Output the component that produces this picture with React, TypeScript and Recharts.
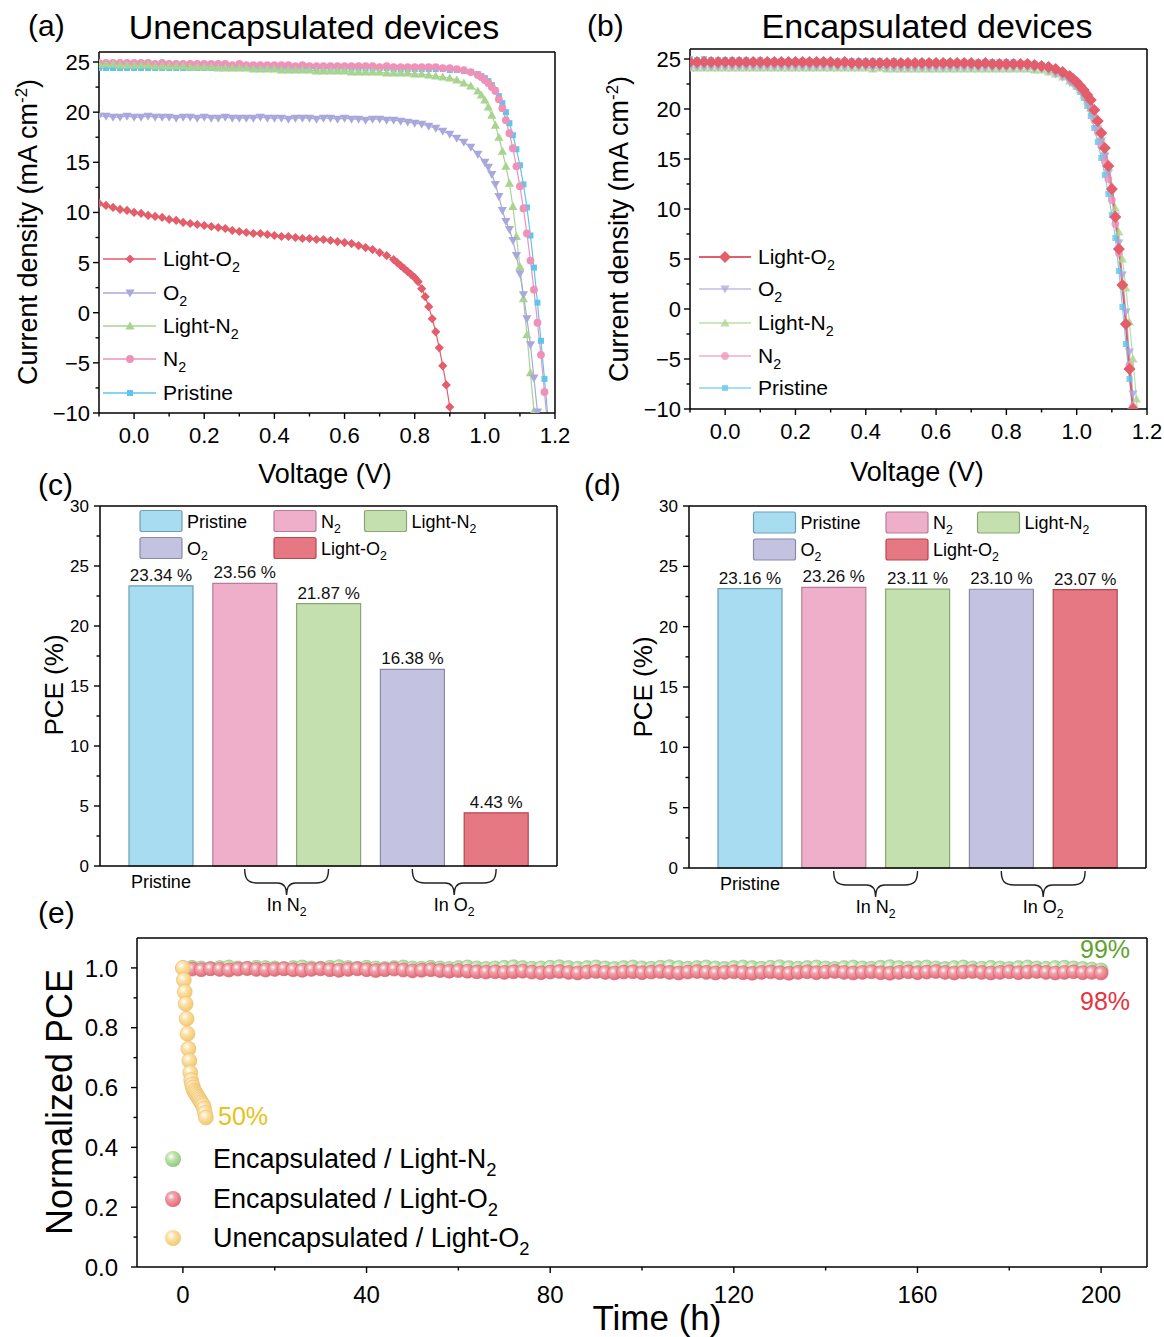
import React from "react";
import {
  Bar,
  BarChart,
  Cell,
  LabelList,
  Line,
  LineChart,
  Scatter,
  ScatterChart,
  XAxis,
  YAxis,
} from "recharts";

const FONT = "'Liberation Sans', Arial, Helvetica, sans-serif";
const AXIS = { stroke: "#000", strokeWidth: 1.5 };

// (a) unencapsulated J-V sweeps, [V, mA cm^-2]
const A_LIGHT_O2 = [
  [-0.1, 10.9], [-0.08, 10.7], [-0.06, 10.5], [-0.04, 10.3], [-0.02, 10.2], [0, 10.0], [0.02, 9.9], [0.04, 9.7],
  [0.06, 9.6], [0.08, 9.5], [0.1, 9.3], [0.12, 9.2], [0.14, 9.0], [0.16, 8.9], [0.18, 8.8], [0.2, 8.7],
  [0.22, 8.6], [0.24, 8.5], [0.26, 8.4], [0.28, 8.2], [0.3, 8.1], [0.32, 8.0], [0.34, 7.9], [0.36, 7.9],
  [0.38, 7.8], [0.4, 7.7], [0.42, 7.6], [0.44, 7.6], [0.46, 7.5], [0.48, 7.4], [0.5, 7.4], [0.52, 7.3],
  [0.54, 7.3], [0.56, 7.2], [0.58, 7.1], [0.6, 7.0], [0.62, 6.9], [0.64, 6.7], [0.66, 6.5], [0.68, 6.3],
  [0.7, 6.0], [0.72, 5.7], [0.74, 5.3], [0.75, 5.0], [0.76, 4.7], [0.77, 4.4], [0.78, 4.1], [0.79, 3.8],
  [0.8, 3.5], [0.81, 3.1], [0.82, 2.4], [0.83, 1.6], [0.84, 0.6], [0.85, -0.6], [0.86, -1.9], [0.87, -3.5],
  [0.88, -5.3], [0.89, -7.2], [0.9, -9.4], [0.91, -11.8],
];
const A_O2 = [
  [-0.1, 19.6], [-0.08, 19.6], [-0.06, 19.5], [-0.04, 19.5], [-0.02, 19.6], [0, 19.5], [0.02, 19.5], [0.04, 19.6],
  [0.06, 19.5], [0.08, 19.5], [0.1, 19.5], [0.12, 19.4], [0.14, 19.5], [0.16, 19.5], [0.18, 19.4], [0.2, 19.5],
  [0.22, 19.4], [0.24, 19.4], [0.26, 19.5], [0.28, 19.4], [0.3, 19.4], [0.32, 19.4], [0.34, 19.4], [0.36, 19.5],
  [0.38, 19.4], [0.4, 19.4], [0.42, 19.4], [0.44, 19.3], [0.46, 19.4], [0.48, 19.4], [0.5, 19.4], [0.52, 19.3],
  [0.54, 19.4], [0.56, 19.4], [0.58, 19.3], [0.6, 19.4], [0.62, 19.3], [0.64, 19.3], [0.66, 19.2], [0.68, 19.3],
  [0.7, 19.3], [0.72, 19.2], [0.74, 19.2], [0.76, 19.1], [0.78, 19.0], [0.8, 18.9], [0.82, 18.8], [0.84, 18.6],
  [0.86, 18.4], [0.88, 18.1], [0.9, 17.8], [0.92, 17.4], [0.94, 17.0], [0.96, 16.5], [0.98, 15.8], [1.0, 15.0],
  [1.01, 14.5], [1.02, 13.8], [1.03, 12.8], [1.04, 11.6], [1.05, 10.2], [1.06, 9.1], [1.07, 8.3], [1.08, 7.2],
  [1.09, 5.7], [1.1, 3.9], [1.11, 1.8], [1.12, -0.6], [1.13, -3.2], [1.14, -6.5], [1.15, -9.9], [1.155, -12],
];
const A_LIGHT_N2 = [
  [-0.1, 24.8], [-0.08, 24.8], [-0.06, 24.8], [-0.04, 24.7], [-0.02, 24.7], [0, 24.7], [0.02, 24.7], [0.04, 24.7],
  [0.06, 24.6], [0.08, 24.6], [0.1, 24.6], [0.12, 24.6], [0.14, 24.6], [0.16, 24.5], [0.18, 24.5], [0.2, 24.5],
  [0.22, 24.5], [0.24, 24.4], [0.26, 24.4], [0.28, 24.4], [0.3, 24.4], [0.32, 24.4], [0.34, 24.3], [0.36, 24.3],
  [0.38, 24.3], [0.4, 24.3], [0.42, 24.2], [0.44, 24.2], [0.46, 24.2], [0.48, 24.2], [0.5, 24.2], [0.52, 24.1],
  [0.54, 24.1], [0.56, 24.1], [0.58, 24.1], [0.6, 24.1], [0.62, 24.0], [0.64, 24.0], [0.66, 24.0], [0.68, 24.0],
  [0.7, 24.0], [0.72, 23.9], [0.74, 23.9], [0.76, 23.9], [0.78, 23.9], [0.8, 23.8], [0.82, 23.8], [0.84, 23.7],
  [0.86, 23.6], [0.88, 23.5], [0.9, 23.4], [0.92, 23.2], [0.94, 22.9], [0.96, 22.6], [0.98, 22.1], [0.99, 21.7],
  [1.0, 21.2], [1.01, 20.5], [1.02, 19.7], [1.03, 18.7], [1.04, 17.5], [1.05, 16.1], [1.06, 14.6], [1.07, 12.9],
  [1.08, 10.6], [1.09, 7.6], [1.1, 4.6], [1.11, 1.4], [1.12, -2.2], [1.13, -6.0], [1.14, -9.8], [1.145, -12],
];
const A_N2 = [
  [-0.1, 24.9], [-0.08, 24.9], [-0.06, 24.9], [-0.04, 24.9], [-0.02, 24.9], [0, 24.9], [0.02, 24.9], [0.04, 24.9],
  [0.06, 24.8], [0.08, 24.9], [0.1, 24.8], [0.12, 24.8], [0.14, 24.8], [0.16, 24.8], [0.18, 24.8], [0.2, 24.8],
  [0.22, 24.8], [0.24, 24.8], [0.26, 24.8], [0.28, 24.7], [0.3, 24.8], [0.32, 24.7], [0.34, 24.7], [0.36, 24.7],
  [0.38, 24.7], [0.4, 24.7], [0.42, 24.7], [0.44, 24.7], [0.46, 24.6], [0.48, 24.7], [0.5, 24.6], [0.52, 24.6],
  [0.54, 24.6], [0.56, 24.6], [0.58, 24.6], [0.6, 24.6], [0.62, 24.6], [0.64, 24.6], [0.66, 24.6], [0.68, 24.6],
  [0.7, 24.5], [0.72, 24.6], [0.74, 24.5], [0.76, 24.5], [0.78, 24.5], [0.8, 24.5], [0.82, 24.5], [0.84, 24.5],
  [0.86, 24.5], [0.88, 24.4], [0.9, 24.4], [0.92, 24.3], [0.94, 24.2], [0.96, 24.0], [0.98, 23.7], [0.99, 23.5],
  [1.0, 23.2], [1.01, 22.9], [1.02, 22.5], [1.03, 22.1], [1.04, 21.3], [1.05, 20.4], [1.06, 19.2], [1.07, 17.9],
  [1.08, 16.4], [1.09, 14.6], [1.1, 12.6], [1.11, 10.4], [1.12, 7.9], [1.13, 5.2], [1.14, 2.3], [1.15, -1.0],
  [1.16, -4.2], [1.17, -7.9], [1.18, -11.6],
];
const A_PRISTINE = [
  [-0.1, 24.4], [-0.08, 24.4], [-0.06, 24.4], [-0.04, 24.4], [-0.02, 24.4], [0, 24.4], [0.02, 24.4], [0.04, 24.4],
  [0.06, 24.4], [0.08, 24.4], [0.1, 24.4], [0.12, 24.4], [0.14, 24.4], [0.16, 24.4], [0.18, 24.4], [0.2, 24.4],
  [0.22, 24.4], [0.24, 24.4], [0.26, 24.4], [0.28, 24.4], [0.3, 24.4], [0.32, 24.4], [0.34, 24.4], [0.36, 24.4],
  [0.38, 24.4], [0.4, 24.4], [0.42, 24.4], [0.44, 24.4], [0.46, 24.4], [0.48, 24.4], [0.5, 24.4], [0.52, 24.4],
  [0.54, 24.4], [0.56, 24.4], [0.58, 24.4], [0.6, 24.4], [0.62, 24.4], [0.64, 24.4], [0.66, 24.4], [0.68, 24.4],
  [0.7, 24.4], [0.72, 24.4], [0.74, 24.3], [0.76, 24.3], [0.78, 24.3], [0.8, 24.3], [0.82, 24.3], [0.84, 24.3],
  [0.86, 24.3], [0.88, 24.3], [0.9, 24.2], [0.92, 24.2], [0.94, 24.1], [0.96, 24.0], [0.98, 23.8], [0.99, 23.6],
  [1.0, 23.4], [1.01, 23.1], [1.02, 22.7], [1.03, 22.2], [1.04, 21.6], [1.05, 20.9], [1.06, 20.0], [1.07, 18.9],
  [1.08, 17.7], [1.09, 16.3], [1.1, 14.7], [1.11, 12.8], [1.12, 10.5], [1.13, 7.7], [1.14, 4.5], [1.15, 1.0],
  [1.16, -2.8], [1.17, -6.6], [1.18, -10.6],
];

// (b) encapsulated J-V sweeps
const B_LIGHT_O2 = [
  [-0.1, 24.7], [-0.08, 24.7], [-0.06, 24.7], [-0.04, 24.7], [-0.02, 24.7], [0, 24.7], [0.02, 24.7], [0.04, 24.7],
  [0.06, 24.7], [0.08, 24.7], [0.1, 24.7], [0.12, 24.7], [0.14, 24.7], [0.16, 24.7], [0.18, 24.7], [0.2, 24.7],
  [0.22, 24.7], [0.24, 24.7], [0.26, 24.7], [0.28, 24.7], [0.3, 24.7], [0.32, 24.6], [0.34, 24.7], [0.36, 24.6],
  [0.38, 24.6], [0.4, 24.6], [0.42, 24.6], [0.44, 24.6], [0.46, 24.6], [0.48, 24.6], [0.5, 24.6], [0.52, 24.6],
  [0.54, 24.6], [0.56, 24.6], [0.58, 24.6], [0.6, 24.6], [0.62, 24.6], [0.64, 24.6], [0.66, 24.6], [0.68, 24.6],
  [0.7, 24.6], [0.72, 24.5], [0.74, 24.6], [0.76, 24.5], [0.78, 24.5], [0.8, 24.5], [0.82, 24.5], [0.84, 24.5],
  [0.86, 24.5], [0.88, 24.4], [0.9, 24.3], [0.92, 24.2], [0.94, 24.0], [0.96, 23.7], [0.98, 23.3], [0.99, 23.0],
  [1.0, 22.7], [1.01, 22.3], [1.02, 21.9], [1.03, 21.4], [1.04, 20.9], [1.05, 19.9], [1.06, 18.8], [1.07, 17.6],
  [1.08, 16.1], [1.09, 14.3], [1.1, 12.0], [1.11, 9.2], [1.12, 6.0], [1.13, 2.4], [1.14, -1.5], [1.15, -6.0],
  [1.16, -10.0], [1.165, -12.2],
];
const B_O2 = [
  [-0.1, 24.2], [-0.08, 24.2], [-0.06, 24.2], [-0.04, 24.2], [-0.02, 24.2], [0, 24.2], [0.02, 24.2], [0.04, 24.2],
  [0.06, 24.2], [0.08, 24.2], [0.1, 24.2], [0.12, 24.2], [0.14, 24.2], [0.16, 24.2], [0.18, 24.2], [0.2, 24.2],
  [0.22, 24.2], [0.24, 24.2], [0.26, 24.2], [0.28, 24.2], [0.3, 24.2], [0.32, 24.2], [0.34, 24.2], [0.36, 24.2],
  [0.38, 24.2], [0.4, 24.2], [0.42, 24.1], [0.44, 24.2], [0.46, 24.1], [0.48, 24.1], [0.5, 24.1], [0.52, 24.1],
  [0.54, 24.1], [0.56, 24.1], [0.58, 24.1], [0.6, 24.1], [0.62, 24.1], [0.64, 24.1], [0.66, 24.1], [0.68, 24.1],
  [0.7, 24.1], [0.72, 24.1], [0.74, 24.1], [0.76, 24.1], [0.78, 24.1], [0.8, 24.1], [0.82, 24.1], [0.84, 24.1],
  [0.86, 24.1], [0.88, 24.0], [0.9, 24.0], [0.92, 23.8], [0.94, 23.5], [0.96, 23.2], [0.98, 22.7], [0.99, 22.5],
  [1.0, 22.2], [1.01, 21.8], [1.02, 21.3], [1.03, 20.7], [1.04, 20.0], [1.05, 19.1], [1.06, 18.0], [1.07, 16.8],
  [1.08, 15.3], [1.09, 13.6], [1.1, 11.6], [1.11, 9.3], [1.12, 6.6], [1.13, 3.4], [1.14, -0.3], [1.15, -4.3],
  [1.16, -8.5], [1.17, -12.8],
];
const B_LIGHT_N2 = [
  [-0.1, 24.1], [-0.08, 24.1], [-0.06, 24.1], [-0.04, 24.1], [-0.02, 24.1], [0, 24.1], [0.02, 24.1], [0.04, 24.1],
  [0.06, 24.1], [0.08, 24.1], [0.1, 24.1], [0.12, 24.1], [0.14, 24.1], [0.16, 24.1], [0.18, 24.1], [0.2, 24.1],
  [0.22, 24.1], [0.24, 24.1], [0.26, 24.1], [0.28, 24.1], [0.3, 24.1], [0.32, 24.1], [0.34, 24.1], [0.36, 24.1],
  [0.38, 24.1], [0.4, 24.1], [0.42, 24.0], [0.44, 24.1], [0.46, 24.0], [0.48, 24.0], [0.5, 24.0], [0.52, 24.0],
  [0.54, 24.0], [0.56, 24.0], [0.58, 24.0], [0.6, 24.0], [0.62, 24.0], [0.64, 24.0], [0.66, 24.0], [0.68, 24.0],
  [0.7, 24.0], [0.72, 24.0], [0.74, 24.0], [0.76, 24.0], [0.78, 24.0], [0.8, 24.0], [0.82, 24.0], [0.84, 24.0],
  [0.86, 24.0], [0.88, 23.9], [0.9, 23.9], [0.92, 23.7], [0.94, 23.5], [0.96, 23.2], [0.98, 22.8], [0.99, 22.6],
  [1.0, 22.3], [1.01, 21.9], [1.02, 21.4], [1.03, 20.8], [1.04, 20.1], [1.05, 19.3], [1.06, 18.3], [1.07, 17.1],
  [1.08, 15.8], [1.09, 14.2], [1.1, 12.3], [1.11, 10.1], [1.12, 7.7], [1.13, 5.0], [1.14, 2.1], [1.15, -1.3],
  [1.16, -5.0], [1.17, -9.0], [1.18, -13.0],
];
const B_N2 = [
  [-0.1, 24.7], [-0.08, 24.6], [-0.06, 24.7], [-0.04, 24.6], [-0.02, 24.6], [0, 24.7], [0.02, 24.6], [0.04, 24.6],
  [0.06, 24.6], [0.08, 24.7], [0.1, 24.6], [0.12, 24.6], [0.14, 24.6], [0.16, 24.6], [0.18, 24.6], [0.2, 24.6],
  [0.22, 24.6], [0.24, 24.6], [0.26, 24.6], [0.28, 24.6], [0.3, 24.6], [0.32, 24.6], [0.34, 24.6], [0.36, 24.6],
  [0.38, 24.6], [0.4, 24.6], [0.42, 24.6], [0.44, 24.6], [0.46, 24.6], [0.48, 24.6], [0.5, 24.6], [0.52, 24.6],
  [0.54, 24.5], [0.56, 24.6], [0.58, 24.5], [0.6, 24.5], [0.62, 24.5], [0.64, 24.5], [0.66, 24.5], [0.68, 24.5],
  [0.7, 24.5], [0.72, 24.5], [0.74, 24.5], [0.76, 24.5], [0.78, 24.5], [0.8, 24.5], [0.82, 24.5], [0.84, 24.5],
  [0.86, 24.5], [0.88, 24.4], [0.9, 24.3], [0.92, 24.2], [0.94, 23.9], [0.96, 23.6], [0.98, 23.1], [0.99, 22.8],
  [1.0, 22.5], [1.01, 22.1], [1.02, 21.6], [1.03, 20.9], [1.04, 20.0], [1.05, 18.9], [1.06, 17.7], [1.07, 16.3],
  [1.08, 14.8], [1.09, 13.0], [1.1, 10.9], [1.11, 8.5], [1.12, 5.6], [1.13, 2.3], [1.14, -1.5], [1.15, -5.6],
  [1.16, -9.8], [1.165, -12],
];
const B_PRISTINE = [
  [-0.1, 25.0], [-0.08, 24.9], [-0.06, 25.0], [-0.04, 24.9], [-0.02, 24.9], [0, 24.9], [0.02, 24.9], [0.04, 24.9],
  [0.06, 24.9], [0.08, 24.8], [0.1, 24.9], [0.12, 24.8], [0.14, 24.8], [0.16, 24.8], [0.18, 24.8], [0.2, 24.8],
  [0.22, 24.8], [0.24, 24.8], [0.26, 24.8], [0.28, 24.8], [0.3, 24.8], [0.32, 24.8], [0.34, 24.8], [0.36, 24.8],
  [0.38, 24.8], [0.4, 24.8], [0.42, 24.8], [0.44, 24.8], [0.46, 24.7], [0.48, 24.8], [0.5, 24.7], [0.52, 24.7],
  [0.54, 24.7], [0.56, 24.7], [0.58, 24.7], [0.6, 24.7], [0.62, 24.7], [0.64, 24.7], [0.66, 24.7], [0.68, 24.7],
  [0.7, 24.7], [0.72, 24.7], [0.74, 24.7], [0.76, 24.7], [0.78, 24.7], [0.8, 24.7], [0.82, 24.7], [0.84, 24.6],
  [0.86, 24.6], [0.88, 24.5], [0.9, 24.4], [0.92, 24.2], [0.94, 24.0], [0.96, 23.6], [0.98, 23.0], [0.99, 22.6],
  [1.0, 22.2], [1.01, 21.7], [1.02, 21.1], [1.03, 20.3], [1.04, 19.3], [1.05, 18.1], [1.06, 16.7], [1.07, 15.1],
  [1.08, 13.4], [1.09, 11.5], [1.1, 9.4], [1.11, 7.1], [1.12, 3.8], [1.13, 0.2], [1.14, -3.5], [1.15, -7.0],
  [1.16, -10.6],
];

const JV_X_TICKS = [-0.1, 0, 0.1, 0.2, 0.3, 0.4, 0.5, 0.6, 0.7, 0.8, 0.9, 1.0, 1.1, 1.2];
const JV_X_MAJOR = [0, 0.2, 0.4, 0.6, 0.8, 1.0, 1.2];
const JV_Y_TICKS = [-10, -7.5, -5, -2.5, 0, 2.5, 5, 7.5, 10, 12.5, 15, 17.5, 20, 22.5, 25];
const JV_Y_MAJOR = [-10, -5, 0, 5, 10, 15, 20, 25];

// (c), (d) PCE
const CATEGORIES = ["Pristine", "N₂", "Light-N₂", "O₂", "Light-O₂"];
const PCE_UNENC = [23.34, 23.56, 21.87, 16.38, 4.43];
const PCE_ENC = [23.16, 23.26, 23.11, 23.1, 23.07];
const GROUP_LABELS = ["Pristine", "", "In N₂", "", "In O₂"];
const PCE_TICKS = [0, 2.5, 5, 7.5, 10, 12.5, 15, 17.5, 20, 22.5, 25, 27.5, 30];
const PCE_MAJOR = [0, 5, 10, 15, 20, 25, 30];
const BAR_FILL = ["#a7dcf1", "#efafca", "#c5e0af", "#c3c3e1", "#e67883"];
const BAR_STROKE = ["#6d9fb8", "#b47f95", "#8ba576", "#8a8aa8", "#b8454f"];

// (e) normalized PCE vs time
const HOURS = [
  0, 2, 4, 6, 8, 10, 12, 14, 16, 18,
  20, 22, 24, 26, 28, 30, 32, 34, 36, 38,
  40, 42, 44, 46, 48, 50, 52, 54, 56, 58,
  60, 62, 64, 66, 68, 70, 72, 74, 76, 78,
  80, 82, 84, 86, 88, 90, 92, 94, 96, 98,
  100, 102, 104, 106, 108, 110, 112, 114, 116, 118,
  120, 122, 124, 126, 128, 130, 132, 134, 136, 138,
  140, 142, 144, 146, 148, 150, 152, 154, 156, 158,
  160, 162, 164, 166, 168, 170, 172, 174, 176, 178,
  180, 182, 184, 186, 188, 190, 192, 194, 196, 198,
  200,
];
const ENC_LIGHT_N2 = [
  1.0, 1.002, 1.0, 0.998, 1.001, 1.003, 1.0, 0.999, 1.002, 1.001,
  1.0, 0.998, 1.001, 1.003, 1.0, 0.999, 1.002, 1.004, 1.001, 0.999,
  1.002, 1.0, 0.998, 1.001, 1.003, 1.0, 0.999, 1.002, 1.0, 0.998,
  1.001, 1.003, 1.0, 0.998, 1.0, 1.002, 1.004, 1.001, 0.999, 1.0,
  1.002, 1.004, 1.001, 0.999, 1.001, 1.003, 1.0, 0.998, 1.001, 1.003,
  1.0, 0.999, 1.002, 1.004, 1.001, 0.999, 1.001, 1.003, 1.0, 0.998,
  1.001, 1.003, 1.001, 0.999, 1.002, 1.004, 1.001, 0.999, 1.001, 1.003,
  1.0, 0.998, 1.001, 1.003, 1.0, 0.999, 1.002, 1.004, 1.001, 0.999,
  1.001, 1.003, 1.0, 0.998, 1.001, 1.003, 1.0, 0.999, 1.002, 1.0,
  0.998, 1.001, 1.003, 1.0, 0.999, 1.001, 1.002, 1.0, 0.998, 0.996,
  0.993,
];
const ENC_LIGHT_O2 = [
  1.0, 0.996, 0.994, 0.997, 0.995, 0.993, 0.996, 0.998, 0.995, 0.993,
  0.995, 0.997, 0.994, 0.992, 0.995, 0.997, 0.994, 0.992, 0.995, 0.997,
  0.994, 0.991, 0.994, 0.996, 0.993, 0.99, 0.992, 0.994, 0.991, 0.989,
  0.991, 0.989, 0.987, 0.986, 0.987, 0.985, 0.987, 0.989, 0.986, 0.984,
  0.986, 0.988, 0.985, 0.983, 0.986, 0.988, 0.985, 0.983, 0.986, 0.987,
  0.984, 0.986, 0.988, 0.985, 0.983, 0.986, 0.988, 0.985, 0.983, 0.985,
  0.987, 0.984, 0.982, 0.985, 0.987, 0.984, 0.982, 0.985, 0.987, 0.984,
  0.986, 0.988, 0.985, 0.983, 0.985, 0.987, 0.984, 0.982, 0.985, 0.987,
  0.984, 0.986, 0.988, 0.985, 0.983, 0.986, 0.988, 0.985, 0.983, 0.985,
  0.987, 0.984, 0.986, 0.988, 0.985, 0.983, 0.985, 0.987, 0.984, 0.985,
  0.983,
];
const UNENC_HOURS = [0, 0.2, 0.4, 0.6, 0.8, 1.0, 1.2, 1.4, 1.6, 1.8, 2.0, 2.2, 2.4, 2.6, 2.8, 3.0, 3.2, 3.4, 3.6, 3.8, 4.0, 4.2, 4.4, 4.6, 4.8, 5.0];
const UNENC_LIGHT_O2 = [1.0, 0.96, 0.92, 0.88, 0.83, 0.78, 0.73, 0.69, 0.65, 0.625, 0.61, 0.6, 0.59, 0.585, 0.58, 0.575, 0.57, 0.565, 0.56, 0.555, 0.55, 0.545, 0.54, 0.53, 0.515, 0.5];
const E_X_TICKS = [0, 20, 40, 60, 80, 100, 120, 140, 160, 180, 200];
const E_X_MAJOR = [0, 40, 80, 120, 160, 200];
const E_Y_TICKS = [0, 0.1, 0.2, 0.3, 0.4, 0.5, 0.6, 0.7, 0.8, 0.9, 1.0];
const E_Y_MAJOR = [0, 0.2, 0.4, 0.6, 0.8, 1.0];

const JV_SERIES = [
  { key: "pristine", label: "Pristine", color: "#5fc5ee", shape: "square" },
  { key: "n2", label: "N₂", color: "#ee92ba", shape: "circle" },
  { key: "lightN2", label: "Light-N₂", color: "#a9d48f", shape: "triUp" },
  { key: "o2", label: "O₂", color: "#a9a8dc", shape: "triDown" },
  { key: "lightO2", label: "Light-O₂", color: "#e35d6a", shape: "diamond" },
];
const JV_LEGEND_ORDER = ["lightO2", "o2", "lightN2", "n2", "pristine"];
const A_SETS: Record<string, number[][]> = {
  pristine: A_PRISTINE, n2: A_N2, lightN2: A_LIGHT_N2, o2: A_O2, lightO2: A_LIGHT_O2,
};
const B_SETS: Record<string, number[][]> = {
  pristine: B_PRISTINE, n2: B_N2, lightN2: B_LIGHT_N2, o2: B_O2, lightO2: B_LIGHT_O2,
};

const near = (list: number[], v: number) => list.some((m) => Math.abs(m - v) < 1e-6);
const minus = (v: number) => (v < 0 ? `\u2212${Math.abs(v)}` : `${v}`);

function Marker({ shape, cx, cy, s, fill, opacity = 1 }: any) {
  if (shape === "diamond")
    return <polygon points={`${cx},${cy - s} ${cx + s},${cy} ${cx},${cy + s} ${cx - s},${cy}`} fill={fill} opacity={opacity} />;
  if (shape === "triDown")
    return <polygon points={`${cx - s},${cy - s * 0.75} ${cx + s},${cy - s * 0.75} ${cx},${cy + s}`} fill={fill} opacity={opacity} />;
  if (shape === "triUp")
    return <polygon points={`${cx},${cy - s} ${cx + s},${cy + s * 0.75} ${cx - s},${cy + s * 0.75}`} fill={fill} opacity={opacity} />;
  if (shape === "circle") return <circle cx={cx} cy={cy} r={s * 0.85} fill={fill} opacity={opacity} />;
  return <rect x={cx - s * 0.65} y={cy - s * 0.65} width={s * 1.3} height={s * 1.3} fill={fill} opacity={opacity} />;
}

function SubText({ x, y, text, size, anchor = "start", fill = "#000" }: any) {
  const parts = String(text).split("₂");
  const d = size * 0.3;
  return (
    <text x={x} y={y} fontSize={size} fontFamily={FONT} fill={fill} textAnchor={anchor}>
      {parts.map((p, i) => (
        <React.Fragment key={i}>
          {i > 0 && (
            <tspan dy={d} fontSize={size * 0.68}>
              2
            </tspan>
          )}
          {p && <tspan dy={i > 0 ? -d : 0}>{p}</tspan>}
        </React.Fragment>
      ))}
    </text>
  );
}

function xTick(majors: number[], fmt: (v: number) => string, size: number, base: number) {
  return (p: any) => {
    const v = Number(p.payload.value);
    const major = near(majors, v);
    return (
      <g>
        <line x1={p.x} x2={p.x} y1={p.y} y2={p.y + (major ? 6 : 3.5)} stroke="#000" strokeWidth={1.4} />
        {major && (
          <text x={p.x} y={p.y + base} textAnchor="middle" fontSize={size} fontFamily={FONT} fill="#000">
            {fmt(v)}
          </text>
        )}
      </g>
    );
  };
}

function yTick(majors: number[], fmt: (v: number) => string, size: number, gap: number) {
  return (p: any) => {
    const v = Number(p.payload.value);
    const major = near(majors, v);
    return (
      <g>
        <line x1={p.x - (major ? 6 : 3.5)} x2={p.x} y1={p.y} y2={p.y} stroke="#000" strokeWidth={1.4} />
        {major && (
          <text x={p.x - gap} y={p.y} dy="0.36em" textAnchor="end" fontSize={size} fontFamily={FONT} fill="#000">
            {fmt(v)}
          </text>
        )}
      </g>
    );
  };
}

const jvXTick = xTick(JV_X_MAJOR, (v) => v.toFixed(1), 22, 30);
const jvYTick = yTick(JV_Y_MAJOR, minus, 22, 9);
const pceYTick = yTick(PCE_MAJOR, (v) => `${v}`, 17, 11);
const eXTick = xTick(E_X_MAJOR, (v) => `${v}`, 24, 36);
const eYTick = yTick(E_Y_MAJOR, (v) => v.toFixed(1), 24, 19);

function brace(x0: number, x1: number, y: number) {
  const m = (x0 + x1) / 2;
  return `M${x0},${y} C${x0},${y + 10} ${x0 + 3},${y + 14} ${x0 + 13},${y + 14} L${m - 9},${y + 14} C${m - 3},${y + 14} ${m},${y + 18} ${m},${y + 26} C${m},${y + 18} ${m + 3},${y + 14} ${m + 9},${y + 14} L${x1 - 13},${y + 14} C${x1 - 3},${y + 14} ${x1},${y + 10} ${x1},${y}`;
}

function groupTick(step: number) {
  return (p: any) => {
    const i = p.index;
    const label = GROUP_LABELS[i];
    if (!label) return <g />;
    if (i === 0) return <SubText x={p.x} y={p.y + 22} text={label} size={18} anchor="middle" />;
    return (
      <g>
        <path d={brace(p.x - step, p.x, p.y + 3)} fill="none" stroke="#222" strokeWidth={1.4} />
        <SubText x={p.x - step / 2} y={p.y + 45} text={label} size={18} anchor="middle" />
      </g>
    );
  };
}

const toPts = (pairs: number[][]) => pairs.map(([v, j]) => ({ v, j }));

// the mirror axes need a non-zero size or Recharts skips drawing them
function JVChart({ sets, frame, bold }: any) {
  return (
    <LineChart width={frame.w} height={frame.h} margin={{ top: frame.top - 1, right: frame.right - 1, bottom: 0, left: 0 }}>
      <XAxis dataKey="v" type="number" domain={[-0.1, 1.2]} allowDataOverflow ticks={JV_X_TICKS} interval={0}
        height={frame.xh} tickSize={0} tickMargin={0} tickLine={false} axisLine={AXIS} tick={jvXTick} />
      <YAxis type="number" domain={[-10, 26]} allowDataOverflow ticks={JV_Y_TICKS} interval={0}
        width={frame.yw} tickSize={0} tickMargin={0} tickLine={false} axisLine={AXIS} tick={jvYTick} />
      <XAxis xAxisId="top" orientation="top" dataKey="v" type="number" domain={[-0.1, 1.2]} allowDataOverflow
        height={1} tick={false} tickLine={false} axisLine={AXIS} />
      <YAxis yAxisId="right" orientation="right" type="number" domain={[-10, 26]} allowDataOverflow
        width={1} tick={false} tickLine={false} axisLine={AXIS} />
      {JV_SERIES.map((s) => {
        const strong = bold === s.key;
        const faded = bold && !strong;
        const size = strong ? 6 : 4.6;
        return (
          <Line
            key={s.key}
            data={toPts(sets[s.key])}
            dataKey="j"
            type="linear"
            stroke={s.color}
            strokeWidth={strong ? 2 : 1.2}
            strokeOpacity={faded ? 0.8 : 1}
            isAnimationActive={false}
            activeDot={false}
            dot={(p: any) =>
              p.cx == null || p.cy == null ? (
                <g key={`${s.key}-${p.index}`} />
              ) : (
                <Marker key={`${s.key}-${p.index}`} shape={s.shape} cx={p.cx} cy={p.cy} s={size}
                  fill={s.color} opacity={faded ? 0.8 : 1} />
              )
            }
          />
        );
      })}
    </LineChart>
  );
}

function PceChart({ values, frame }: any) {
  const data = CATEGORIES.map((name, i) => ({ name, pce: values[i] }));
  return (
    <BarChart width={frame.w} height={frame.h} data={data} margin={{ top: frame.top - 1, right: frame.right - 1, bottom: 0, left: 0 }}>
      <XAxis dataKey="name" padding={{ left: 19, right: 19 }} height={frame.xh} tickSize={0} tickMargin={0}
        tickLine={false} axisLine={AXIS} interval={0} tick={groupTick(frame.step)} />
      <YAxis type="number" domain={[0, 30]} ticks={PCE_TICKS} interval={0} width={frame.yw} tickSize={0}
        tickMargin={0} tickLine={false} axisLine={AXIS} tick={pceYTick} />
      <XAxis xAxisId="top" orientation="top" dataKey="name" height={1} tick={false} tickLine={false} axisLine={AXIS} />
      <YAxis yAxisId="right" orientation="right" type="number" domain={[0, 30]} width={1} tick={false}
        tickLine={false} axisLine={AXIS} />
      <Bar dataKey="pce" barSize={64} isAnimationActive={false}>
        {values.map((_: number, i: number) => (
          <Cell key={i} fill={BAR_FILL[i]} stroke={BAR_STROKE[i]} strokeWidth={1.2} />
        ))}
        <LabelList dataKey="pce" position="top" offset={5} formatter={(v: any) => `${Number(v).toFixed(2)} %`}
          fill="#111" fontSize={17} fontFamily={FONT} />
      </Bar>
    </BarChart>
  );
}

const sphere = (id: string, r: number, edge: string) => (p: any) =>
  <circle cx={p.cx} cy={p.cy} r={r} fill={`url(#${id})`} stroke={edge} strokeWidth={0.6} />;

function StabilityChart() {
  const encN2 = HOURS.map((t, i) => ({ t, pce: ENC_LIGHT_N2[i] }));
  const encO2 = HOURS.map((t, i) => ({ t, pce: ENC_LIGHT_O2[i] }));
  const unenc = UNENC_HOURS.map((t, i) => ({ t, pce: UNENC_LIGHT_O2[i] }));
  return (
    <ScatterChart width={1164} height={437} margin={{ top: 37, right: 16, bottom: 0, left: 0 }}>
      <XAxis dataKey="t" type="number" domain={[-10, 210]} allowDataOverflow ticks={E_X_TICKS} interval={0}
        height={70} tickSize={0} tickMargin={0} tickLine={false} axisLine={AXIS} tick={eXTick} />
      <YAxis dataKey="pce" type="number" domain={[0, 1.1]} allowDataOverflow ticks={E_Y_TICKS} interval={0}
        width={137} tickSize={0} tickMargin={0} tickLine={false} axisLine={AXIS} tick={eYTick} />
      <XAxis xAxisId="top" orientation="top" dataKey="t" type="number" domain={[-10, 210]} allowDataOverflow
        height={1} tick={false} tickLine={false} axisLine={AXIS} />
      <YAxis yAxisId="right" orientation="right" dataKey="pce" type="number" domain={[0, 1.1]} allowDataOverflow
        width={1} tick={false} tickLine={false} axisLine={AXIS} />
      <Scatter data={encN2} shape={sphere("sphG", 7, "#8cc078")} isAnimationActive={false} />
      <Scatter data={encO2} shape={sphere("sphR", 7, "#d9606c")} isAnimationActive={false} />
      <Scatter data={unenc} shape={sphere("sphY", 7.5, "#e9c070")} isAnimationActive={false} />
    </ScatterChart>
  );
}

function JVLegend({ x0, x1, xm, xt, rows, bold }: any) {
  return (
    <g>
      {JV_LEGEND_ORDER.map((k, i) => {
        const s = JV_SERIES.find((d) => d.key === k)!;
        const y = rows[i];
        const strong = bold === k;
        const faded = bold && !strong;
        return (
          <g key={k}>
            <line x1={x0} x2={x1} y1={y} y2={y} stroke={s.color} strokeWidth={strong ? 2.2 : 1.4} opacity={faded ? 0.75 : 1} />
            <Marker shape={s.shape} cx={xm} cy={y} s={strong ? 6 : 4.6} fill={s.color} opacity={faded ? 0.75 : 1} />
            <SubText x={xt} y={y + 7} text={s.label} size={21} />
          </g>
        );
      })}
    </g>
  );
}

function BarLegend({ cols, rows }: any) {
  return (
    <g>
      {CATEGORIES.map((c, i) => {
        const x = cols[i % 3];
        const y = rows[Math.floor(i / 3)];
        return (
          <g key={c}>
            <rect x={x} y={y} width={42} height={21} rx={2} fill={BAR_FILL[i]} stroke={BAR_STROKE[i]} strokeWidth={1.2} />
            <SubText x={x + 47} y={y + 17} text={c} size={18} />
          </g>
        );
      })}
    </g>
  );
}

function Annotations() {
  const t = (x: number, y: number, s: string, size: number, anchor = "start", fill = "#000") => (
    <text x={x} y={y} fontSize={size} fontFamily={FONT} textAnchor={anchor} fill={fill}>
      {s}
    </text>
  );
  const yLabel = (x: number, y: number) => (
    <text transform={`translate(${x},${y}) rotate(-90)`} fontSize={27} fontFamily={FONT} textAnchor="middle" fill="#000">
      Current density (mA cm<tspan dy={-10} fontSize={17}>-2</tspan>
      <tspan dy={10}>)</tspan>
    </text>
  );
  return (
    <svg width={1164} height={1337} style={{ position: "absolute", left: 0, top: 0, pointerEvents: "none" }}>
      {t(28, 36, "(a)", 30)}
      {t(314, 39, "Unencapsulated devices", 34, "middle")}
      {t(587, 36, "(b)", 30)}
      {t(927, 38, "Encapsulated devices", 34, "middle")}
      {yLabel(37, 232)}
      {yLabel(628, 229)}
      {t(325, 483, "Voltage (V)", 27, "middle")}
      {t(917, 481, "Voltage (V)", 27, "middle")}
      <JVLegend x0={103} x1={156} xm={130} xt={163} rows={[259, 293, 326, 359, 393]} />
      <JVLegend x0={699} x1={751} xm={725} xt={758} rows={[257, 289, 323, 356, 388]} bold="lightO2" />

      {t(38, 495, "(c)", 30)}
      {t(584, 495, "(d)", 30)}
      <text transform="translate(63,685) rotate(-90)" fontSize={26} fontFamily={FONT} textAnchor="middle">PCE (%)</text>
      <text transform="translate(652,687) rotate(-90)" fontSize={26} fontFamily={FONT} textAnchor="middle">PCE (%)</text>
      <BarLegend cols={[140, 274, 364.5]} rows={[510.5, 537.5]} />
      <BarLegend cols={[753.5, 886, 977.5]} rows={[512, 539]} />

      {t(38, 923, "(e)", 30)}
      <text transform="translate(72,1102) rotate(-90)" fontSize={36} fontFamily={FONT} textAnchor="middle">Normalized PCE</text>
      {t(657, 1330, "Time (h)", 35, "middle")}
      {t(1080, 958, "99%", 25, "start", "#5ea32f")}
      {t(1080, 1010, "98%", 25, "start", "#e8313e")}
      {t(218, 1125, "50%", 25, "start", "#e6c21a")}
      <circle cx={173} cy={1159} r={8} fill="url(#sphG)" />
      <circle cx={173} cy={1199} r={8} fill="url(#sphR)" />
      <circle cx={173} cy={1238} r={8} fill="url(#sphY)" />
      <SubText x={213} y={1168} text="Encapsulated / Light-N₂" size={27} />
      <SubText x={213} y={1208} text="Encapsulated / Light-O₂" size={27} />
      <SubText x={213} y={1247} text="Unencapsulated / Light-O₂" size={27} />
    </svg>
  );
}

const FRAME_A = { w: 580, h: 470, top: 52, right: 25, yw: 99, xh: 57 };
const FRAME_B = { w: 564, h: 470, top: 49, right: 17, yw: 90, xh: 61 };
const FRAME_C = { w: 580, h: 440, top: 16, right: 23, yw: 100, xh: 64, step: 83.8 };
const FRAME_D = { w: 564, h: 440, top: 16, right: 18, yw: 89, xh: 62, step: 83.8 };

export default function App() {
  return (
    <div style={{ position: "absolute", left: 0, top: 0, width: 1164, height: 1337, background: "#fff", overflow: "hidden", fontFamily: FONT }}>
      <svg width={0} height={0} style={{ position: "absolute" }}>
        <defs>
          <radialGradient id="sphG" cx="0.38" cy="0.35" r="0.7">
            <stop offset="0" stopColor="#ffffff" />
            <stop offset="0.35" stopColor="#c2e4b2" />
            <stop offset="1" stopColor="#8cc477" />
          </radialGradient>
          <radialGradient id="sphR" cx="0.38" cy="0.35" r="0.7">
            <stop offset="0" stopColor="#ffffff" />
            <stop offset="0.3" stopColor="#f0a3ab" />
            <stop offset="1" stopColor="#e06472" />
          </radialGradient>
          <radialGradient id="sphY" cx="0.38" cy="0.35" r="0.7">
            <stop offset="0" stopColor="#ffffff" />
            <stop offset="0.35" stopColor="#fbe2a8" />
            <stop offset="1" stopColor="#f2c56a" />
          </radialGradient>
        </defs>
      </svg>
      <div style={{ position: "absolute", left: 0, top: 0 }}>
        <JVChart sets={A_SETS} frame={FRAME_A} />
      </div>
      <div style={{ position: "absolute", left: 600, top: 0 }}>
        <JVChart sets={B_SETS} frame={FRAME_B} bold="lightO2" />
      </div>
      <div style={{ position: "absolute", left: 0, top: 490 }}>
        <PceChart values={PCE_UNENC} frame={FRAME_C} />
      </div>
      <div style={{ position: "absolute", left: 600, top: 490 }}>
        <PceChart values={PCE_ENC} frame={FRAME_D} />
      </div>
      <div style={{ position: "absolute", left: 0, top: 900 }}>
        <StabilityChart />
      </div>
      <Annotations />
    </div>
  );
}
